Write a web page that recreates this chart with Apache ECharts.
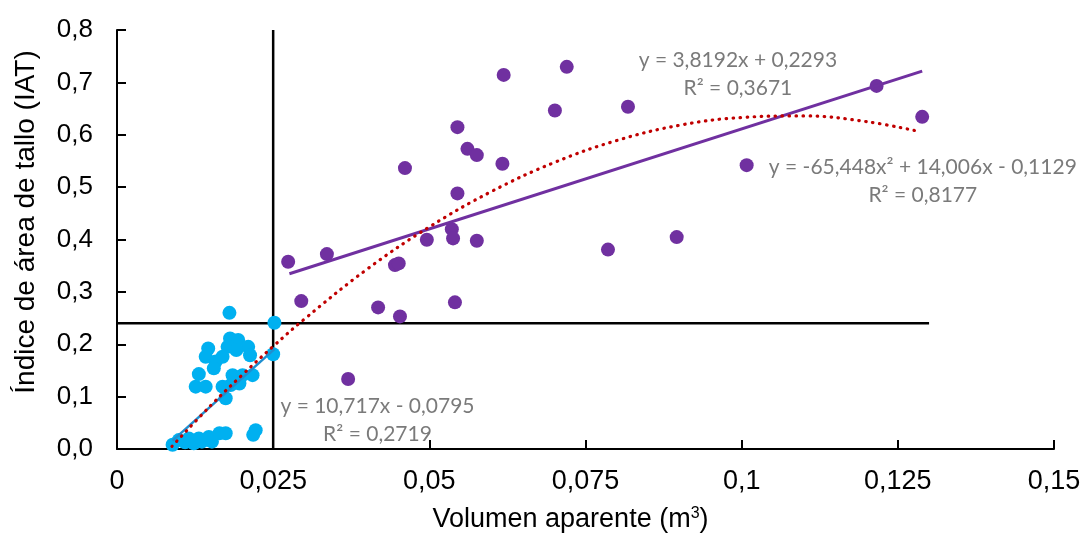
<!DOCTYPE html>
<html>
<head>
<meta charset="utf-8">
<script src="https://cdn.jsdelivr.net/npm/echarts@6/dist/echarts.min.js"></script>
<style>
html,body{margin:0;padding:0;background:#fff;}
#c{width:1089px;height:541px;}
</style>
</head>
<body>
<div id="c"></div>
<script>
// ---- data ----
const purplePoints = [
  [0.0274,0.3574],[0.0336,0.3721],[0.0295,0.2824],[0.0370,0.1336],[0.0418,0.2704],
  [0.0445,0.3511],[0.0451,0.3544],[0.0453,0.2532],[0.0461,0.5363],[0.0496,0.3994],
  [0.0536,0.4198],[0.0538,0.4021],[0.0541,0.2800],[0.0545,0.6145],[0.0545,0.4880],
  [0.0561,0.5731],[0.0576,0.5611],[0.0576,0.3975],[0.0617,0.5445],[0.0619,0.7143],
  [0.0701,0.6464],[0.0720,0.7296],[0.0786,0.3807],[0.0818,0.6536],[0.0896,0.4046],
  [0.1008,0.5420],[0.1216,0.6933],[0.1289,0.6342]
];
const bluePoints = [
  [0.0180,0.260],[0.0252,0.241],[0.0250,0.181],[0.0181,0.211],[0.0194,0.208],
  [0.0210,0.195],[0.0146,0.192],[0.0142,0.176],[0.0177,0.195],[0.0191,0.189],
  [0.0213,0.179],[0.0169,0.176],[0.0158,0.167],[0.0155,0.154],[0.0131,0.143],
  [0.0185,0.141],[0.0201,0.141],[0.0217,0.141],[0.0126,0.119],[0.0142,0.119],
  [0.0169,0.119],[0.0182,0.122],[0.0196,0.125],[0.0174,0.097],[0.0222,0.036],
  [0.0218,0.027],[0.0089,0.008],[0.0099,0.017],[0.0115,0.020],[0.0131,0.020],
  [0.0147,0.023],[0.0164,0.030],[0.0174,0.030],[0.0123,0.011],[0.0136,0.014],
  [0.0152,0.014],[0.0109,0.013]
];
const purpleTrend = [[0.0276,0.3347],[0.1289,0.7216]];
const blueTrend = [[0.0089,0.0159],[0.0252,0.1906]];
const polyTrend = [
  [0.0088,0.005],[0.015,0.083],[0.02,0.141],[0.025,0.196],[0.03,0.248],[0.04,0.343],
  [0.05,0.424],[0.06,0.492],[0.07,0.547],[0.08,0.589],[0.09,0.618],[0.10,0.633],
  [0.11,0.636],[0.12,0.625],[0.1285,0.606]
];
const vRefLine = [[0.025,0],[0.025,0.8]];
const hRefLine = [[0,0.24],[0.13,0.24]];
const annotations = [
  [0.0994,0.742,'y = 3,8192x + 0,2293'],
  [0.0994,0.689,'R² = 0,3671'],
  [0.1290,0.538,'y = -65,448x² + 14,006x - 0,1129'],
  [0.1290,0.485,'R² = 0,8177'],
  [0.0417,0.082,'y = 10,717x - 0,0795'],
  [0.0417,0.029,'R² = 0,2719']
];
const xAxisTitle = 'Volumen aparente (m{sup|3})';
const yAxisTitle = 'Índice de área de tallo (IAT)';

const chart = echarts.init(document.getElementById('c'), null, {renderer:'canvas'});
const axisFont = 'Liberation Sans, Arial, sans-serif';
const noteFont = 'Lato, Noto Sans, sans-serif';

chart.setOption({
  animation:false,
  backgroundColor:'#ffffff',
  grid:{left:117,right:35,top:30,bottom:92,containLabel:false},
  xAxis:{
    type:'value',min:0,max:0.15,interval:0.025,
    axisLine:{show:true,lineStyle:{color:'#000',width:2}},
    axisTick:{show:true,inside:true,length:9,lineStyle:{color:'#000',width:2}},
    splitLine:{show:false},
    axisLabel:{color:'#000',fontFamily:axisFont,fontSize:27,margin:19,
      formatter:v=>String(parseFloat(v.toFixed(3))).replace('.',',')},
    name:xAxisTitle,nameLocation:'middle',nameGap:57,
    nameTextStyle:{color:'#000',fontFamily:axisFont,fontSize:27,padding:[0,30,0,0],
      rich:{sup:{fontSize:16,verticalAlign:'top',color:'#000',fontFamily:axisFont,padding:[0,0,12,0]}}}
  },
  yAxis:{
    type:'value',min:0,max:0.8,interval:0.1,
    axisLine:{show:true,lineStyle:{color:'#000',width:2}},
    axisTick:{show:true,inside:true,length:9,lineStyle:{color:'#000',width:2}},
    splitLine:{show:false},
    axisLabel:{color:'#000',fontFamily:axisFont,fontSize:26,margin:24,
      formatter:v=>v.toFixed(1).replace('.',',')}
  },
  graphic:[{
    type:'text',rotation:Math.PI/2,
    x:26,y:222,
    style:{text:yAxisTitle,fill:'#000',font:'28px Liberation Sans, Arial, sans-serif',
      textAlign:'center',textVerticalAlign:'middle'}
  }],
  series:[
    {type:'line',data:vRefLine,symbol:'none',lineStyle:{color:'#000',width:2.5},z:1,silent:true},
    {type:'line',data:hRefLine,symbol:'none',lineStyle:{color:'#000',width:2.5},z:1,silent:true},
    {type:'scatter',data:bluePoints,symbolSize:14,itemStyle:{color:'#00b0f0',opacity:1},z:3},
    {type:'scatter',data:purplePoints,symbolSize:14,itemStyle:{color:'#7030a0',opacity:1},z:3},
    {type:'line',data:blueTrend,symbol:'none',lineStyle:{color:'#1f8fd0',width:2.5},z:4},
    {type:'line',data:purpleTrend,symbol:'none',lineStyle:{color:'#7030a0',width:3},z:4},
    {type:'line',data:polyTrend,symbol:'none',smooth:0.4,
      lineStyle:{color:'#c00000',width:3.2,type:[0.5,6.5],cap:'round'},z:5},
    {type:'scatter',data:annotations.map(a=>[a[0],a[1],a[2]]),symbolSize:0,silent:true,z:6,
      label:{show:true,position:'inside',formatter:p=>p.data[2],color:'#595959',
        fontFamily:noteFont,fontSize:21}}
  ]
});
</script>
</body>
</html>
